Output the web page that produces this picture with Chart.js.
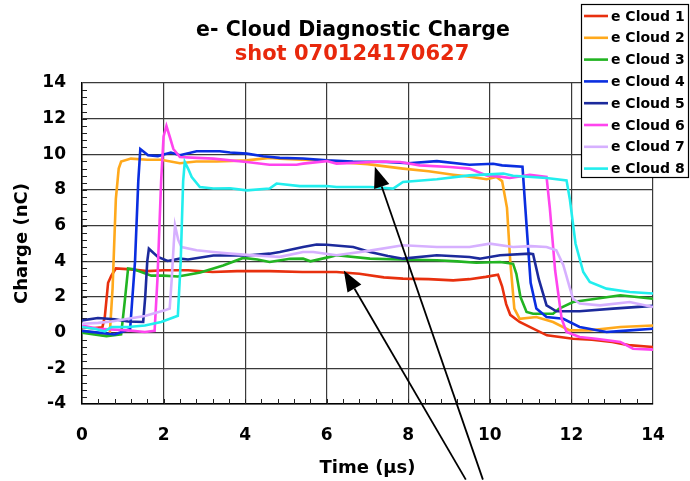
<!DOCTYPE html>
<html>
<head>
<meta charset="utf-8">
<script src="https://cdn.jsdelivr.net/npm/chart.js@4.4.1/dist/chart.umd.min.js"></script>
<style>
  html, body { margin: 0; padding: 0; background: #fff; }
  #wrap { position: relative; width: 690px; height: 481px; }
</style>
</head>
<body>
<div id="wrap"><canvas id="cloudChart" width="690" height="481"></canvas></div>
<script>
const FONT = '"DejaVu Sans", Verdana, sans-serif';

const cloudNames = ['e Cloud 1', 'e Cloud 2', 'e Cloud 3', 'e Cloud 4', 'e Cloud 5', 'e Cloud 6', 'e Cloud 7', 'e Cloud 8'];
const cloudColors = ['#e8300e', '#ffa91c', '#22b422', '#0a2ee0', '#1c2a9c', '#ff44ee', '#d6b0ff', '#22eeee'];

// time (µs) and charge (nC) for each cloud detector
const t1 = [0, 0.25, 0.5, 0.56, 0.64, 0.72, 0.83, 1.2, 1.6, 2.0, 2.6, 3.2, 3.8, 4.6, 5.4, 6.24, 6.8, 7.4, 7.87, 8.5, 9.1, 9.5, 9.9, 10.2, 10.3, 10.4, 10.5, 10.73, 11.0, 11.4, 12.04, 12.5, 13.0, 13.4, 14];
const q1 = [0.3, 0.25, 0.3, 0.9, 2.8, 3.2, 3.6, 3.55, 3.45, 3.5, 3.5, 3.4, 3.45, 3.45, 3.4, 3.4, 3.3, 3.1, 3.03, 3.0, 2.93, 3.0, 3.13, 3.25, 2.6, 1.6, 1.0, 0.6, 0.3, -0.15, -0.34, -0.4, -0.52, -0.7, -0.8];

const t2 = [0, 0.3, 0.5, 0.68, 0.75, 0.83, 0.9, 0.96, 1.2, 1.6, 1.94, 2.4, 2.8, 3.3, 4.04, 4.6, 4.85, 5.4, 6.0, 6.24, 7.0, 7.87, 8.5, 9.1, 9.5, 9.92, 10.16, 10.3, 10.42, 10.5, 10.6, 10.73, 11.14, 11.55, 11.96, 12.45, 13.2, 14];
const q2 = [0.1, 0.0, -0.15, -0.1, 2.5, 7.5, 9.2, 9.6, 9.76, 9.7, 9.7, 9.5, 9.6, 9.6, 9.66, 9.8, 9.76, 9.7, 9.66, 9.57, 9.45, 9.2, 9.05, 8.86, 8.75, 8.6, 8.73, 8.5, 7.0, 4.0, 1.35, 0.78, 0.88, 0.6, 0.13, 0.13, 0.32, 0.4];

const t3 = [0, 0.3, 0.6, 0.96, 1.05, 1.13, 1.27, 1.7, 2.0, 2.35, 2.6, 2.9, 3.46, 3.95, 4.3, 4.6, 5.1, 5.42, 5.6, 6.08, 6.24, 7.06, 7.8, 8.7, 9.2, 9.67, 10.25, 10.57, 10.65, 10.75, 10.9, 11.06, 11.55, 11.7, 12.04, 12.6, 13.2, 14];
const q3 = [0.0, -0.1, -0.2, -0.1, 1.8, 3.6, 3.55, 3.2, 3.2, 3.15, 3.25, 3.37, 3.77, 4.19, 4.1, 3.96, 4.14, 4.15, 4.0, 4.25, 4.34, 4.15, 4.1, 4.06, 4.0, 3.92, 3.96, 3.86, 3.3, 2.0, 1.16, 1.06, 1.06, 1.35, 1.72, 1.9, 2.1, 1.9];

const t4 = [0, 0.4, 0.8, 1.18, 1.3, 1.38, 1.43, 1.62, 1.86, 2.18, 2.4, 2.81, 3.38, 3.63, 4.04, 4.44, 4.85, 5.42, 6.0, 6.64, 7.47, 8.0, 8.7, 9.5, 10.08, 10.3, 10.8, 10.9, 11.0, 11.14, 11.39, 11.8, 12.2, 12.86, 13.43, 14];
const q4 = [0.1, 0.0, -0.1, 0.2, 4.0, 8.5, 10.3, 9.95, 9.9, 10.1, 9.95, 10.17, 10.17, 10.1, 10.04, 9.89, 9.8, 9.77, 9.66, 9.6, 9.57, 9.5, 9.62, 9.42, 9.47, 9.38, 9.3, 6.0, 2.8, 1.35, 0.88, 0.78, 0.32, 0.04, 0.13, 0.22];

const t5 = [0, 0.39, 0.8, 1.13, 1.5, 1.55, 1.6, 1.64, 1.86, 2.1, 2.4, 2.6, 3.22, 4.04, 4.6, 4.85, 5.42, 5.75, 6.0, 6.65, 7.06, 7.5, 7.87, 8.7, 9.5, 9.75, 10.25, 10.98, 11.06, 11.2, 11.39, 11.63, 12.2, 13.02, 14];
const q5 = [0.69, 0.82, 0.75, 0.63, 0.6, 2.0, 4.0, 4.71, 4.25, 4.02, 4.15, 4.1, 4.33, 4.33, 4.43, 4.52, 4.8, 4.94, 4.93, 4.8, 4.52, 4.3, 4.15, 4.34, 4.24, 4.15, 4.34, 4.43, 4.4, 3.0, 1.53, 1.2, 1.2, 1.35, 1.5];

const t6 = [0, 0.39, 1.13, 1.54, 1.78, 1.85, 1.94, 2.0, 2.07, 2.15, 2.24, 2.4, 2.81, 3.22, 4.04, 4.6, 5.26, 5.42, 6.0, 6.24, 7.39, 7.8, 8.28, 9.02, 9.5, 9.92, 10.25, 10.49, 10.98, 11.39, 11.47, 11.6, 11.76, 11.88, 12.2, 12.6, 13.2, 13.51, 14];
const q6 = [0.4, 0.22, 0.13, 0.04, 0.1, 3.0, 8.5, 11.0, 11.59, 11.0, 10.3, 9.85, 9.8, 9.76, 9.57, 9.42, 9.42, 9.48, 9.62, 9.48, 9.6, 9.57, 9.38, 9.29, 9.2, 8.82, 8.75, 8.67, 8.85, 8.73, 7.0, 3.5, 0.78, 0.04, -0.24, -0.34, -0.52, -0.9, -0.95];

const t7 = [0, 0.4, 0.72, 1.13, 1.54, 2.03, 2.15, 2.2, 2.25, 2.28, 2.36, 2.44, 2.81, 3.22, 3.63, 4.04, 4.44, 4.85, 5.42, 5.67, 6.24, 7.06, 7.87, 8.7, 9.5, 10.0, 10.57, 11.0, 11.39, 11.63, 11.8, 11.95, 12.04, 12.2, 12.7, 13.43, 14];
const q7 = [0.5, 0.55, 0.63, 0.78, 0.93, 1.25, 1.35, 3.0, 5.0, 6.02, 5.2, 4.8, 4.62, 4.52, 4.43, 4.36, 4.3, 4.25, 4.52, 4.52, 4.34, 4.6, 4.9, 4.8, 4.8, 4.99, 4.8, 4.85, 4.8, 4.62, 3.8, 2.6, 1.9, 1.63, 1.53, 1.72, 1.44];

const t8 = [0, 0.31, 0.56, 0.72, 1.13, 1.54, 1.94, 2.27, 2.35, 2.42, 2.48, 2.52, 2.6, 2.69, 2.89, 3.22, 3.63, 4.04, 4.6, 4.77, 5.34, 6.0, 6.24, 7.06, 7.63, 7.87, 8.7, 9.5, 10.33, 10.57, 11.39, 11.88, 11.96, 12.1, 12.29, 12.45, 12.86, 13.43, 14];
const q8 = [0.32, 0.22, 0.07, 0.32, 0.32, 0.4, 0.6, 0.88, 0.95, 4.0, 8.5, 9.57, 9.2, 8.73, 8.17, 8.08, 8.1, 7.98, 8.08, 8.36, 8.22, 8.22, 8.17, 8.17, 8.08, 8.45, 8.6, 8.82, 8.92, 8.8, 8.67, 8.54, 7.5, 5.0, 3.4, 2.84, 2.47, 2.28, 2.2];

const cloudTimes = [t1, t2, t3, t4, t5, t6, t7, t8];
const cloudCharges = [q1, q2, q3, q4, q5, q6, q7, q8];

// axis ranges and tick labels
const xTicks = [0, 2, 4, 6, 8, 10, 12, 14];
const yTicks = [-4, -2, 0, 2, 4, 6, 8, 10, 12, 14];
const minorStep = 0.4;

// pointer arrows: [tail, tip] in (µs, nC)
const arrowLines = [
    [[9.83, -8.24], [7.18, 9.31]],
    [[9.41, -8.24], [6.42, 3.49]]
];

const datasets = cloudNames.map((name, i) => ({
    label: name,
    data: cloudTimes[i].map((t, k) => ({x: t, y: cloudCharges[i][k]})),
    borderColor: cloudColors[i],
    backgroundColor: cloudColors[i],
    borderWidth: 2.6,
    pointRadius: 0,
    tension: 0,
    order: cloudNames.length - i
}));

// minor tick marks inside the plot frame
const minorTicks = {
    id: 'minorTicks',
    beforeDatasetsDraw(chart) {
        const {ctx, chartArea: a, scales: {x, y}} = chart;
        ctx.save();
        ctx.strokeStyle = '#222';
        ctx.lineWidth = 1;
        ctx.beginPath();
        const nx = Math.round((xTicks[xTicks.length - 1] - xTicks[0]) / minorStep);
        for (let k = 1; k < nx; k++) {
            const px = Math.round(x.getPixelForValue(xTicks[0] + k * minorStep)) + 0.5;
            ctx.moveTo(px, a.bottom);
            ctx.lineTo(px, a.bottom - 5);
        }
        const ny = Math.round((yTicks[yTicks.length - 1] - yTicks[0]) / minorStep);
        for (let k = 1; k < ny; k++) {
            const py = Math.round(y.getPixelForValue(yTicks[0] + k * minorStep)) + 0.5;
            ctx.moveTo(a.left, py);
            ctx.lineTo(a.left + 5, py);
        }
        ctx.stroke();
        ctx.restore();
    }
};

// titles, legend box and arrows on top of everything
const overlay = {
    id: 'overlay',
    afterDraw(chart) {
        const {ctx, scales: {x, y}} = chart;
        ctx.save();

        // arrows
        ctx.strokeStyle = '#000';
        ctx.fillStyle = '#000';
        ctx.lineWidth = 1.8;
        arrowLines.forEach(([tail, tip]) => {
            const x0 = x.getPixelForValue(tail[0]), y0 = y.getPixelForValue(tail[1]);
            const x1 = x.getPixelForValue(tip[0]), y1 = y.getPixelForValue(tip[1]);
            const ang = Math.atan2(y1 - y0, x1 - x0);
            const len = 21, half = 8;
            const bx = x1 - len * Math.cos(ang), by = y1 - len * Math.sin(ang);
            ctx.beginPath();
            ctx.moveTo(x0, y0);
            ctx.lineTo(bx, by);
            ctx.stroke();
            ctx.beginPath();
            ctx.moveTo(x1, y1);
            ctx.lineTo(bx + half * Math.sin(ang), by - half * Math.cos(ang));
            ctx.lineTo(bx - half * Math.sin(ang), by + half * Math.cos(ang));
            ctx.closePath();
            ctx.fill();
        });

        // title
        ctx.textAlign = 'center';
        ctx.textBaseline = 'middle';
        ctx.font = 'bold 20.5px ' + FONT;
        ctx.fillStyle = '#000';
        ctx.fillText('e- Cloud Diagnostic Charge', 353, 31);
        ctx.font = 'bold 21px ' + FONT;
        ctx.fillStyle = '#e8280c';
        ctx.fillText('shot 070124170627', 352, 55);

        // legend
        ctx.fillStyle = '#fff';
        ctx.fillRect(581, 4, 108, 174);
        ctx.strokeStyle = '#000';
        ctx.lineWidth = 1.2;
        ctx.strokeRect(581.5, 4.5, 107, 173);
        ctx.textAlign = 'left';
        ctx.font = 'bold 14px ' + FONT;
        cloudNames.forEach((name, i) => {
            const ry = 16 + i * 21.8;
            ctx.strokeStyle = cloudColors[i];
            ctx.lineWidth = 2.6;
            ctx.beginPath();
            ctx.moveTo(584, ry);
            ctx.lineTo(608, ry);
            ctx.stroke();
            ctx.fillStyle = '#000';
            ctx.fillText(name, 611, ry + 1);
        });
        ctx.restore();
    }
};

new Chart(document.getElementById('cloudChart'), {
    type: 'line',
    data: {datasets},
    options: {
        responsive: false,
        animation: false,
        layout: {padding: {top: 83, right: 37, left: 0, bottom: 0}},
        plugins: {
            legend: {display: false},
            title: {display: false},
            tooltip: {enabled: false}
        },
        scales: {
            x: {
                type: 'linear',
                min: xTicks[0],
                max: xTicks[xTicks.length - 1],
                afterFit: s => { s.height = 77; },
                afterBuildTicks: s => { s.ticks = xTicks.map(v => ({value: v})); },
                border: {display: true, color: '#000', width: 1.5},
                grid: {color: '#3a3a3a', lineWidth: 1.2, drawTicks: false},
                ticks: {
                    padding: 21,
                    color: '#000',
                    font: {family: FONT, size: 17, weight: 'bold'}
                },
                title: {
                    display: true,
                    text: 'Time (µs)',
                    color: '#000',
                    font: {family: FONT, size: 18, weight: 'bold'},
                    padding: {top: 0, bottom: 2}
                }
            },
            y: {
                type: 'linear',
                min: yTicks[0],
                max: yTicks[yTicks.length - 1],
                afterFit: s => { s.width = 82; },
                afterBuildTicks: s => { s.ticks = yTicks.map(v => ({value: v})); },
                border: {display: true, color: '#000', width: 1.5},
                grid: {color: '#3a3a3a', lineWidth: 1.2, drawTicks: false},
                ticks: {
                    padding: 16,
                    color: '#000',
                    font: {family: FONT, size: 17, weight: 'bold'}
                },
                title: {
                    display: true,
                    text: 'Charge (nC)',
                    color: '#000',
                    font: {family: FONT, size: 18, weight: 'bold'},
                    padding: {top: 12, bottom: 0}
                }
            }
        }
    },
    plugins: [minorTicks, overlay]
});
</script>
</body>
</html>
